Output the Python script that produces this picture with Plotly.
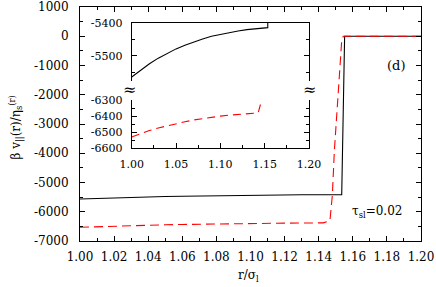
import plotly.graph_objects as go

# ---- data ----
r_black = [1.00, 1.01, 1.02, 1.03, 1.04, 1.05, 1.06, 1.07, 1.08, 1.09, 1.10,
           1.11, 1.12, 1.13, 1.14, 1.1535, 1.1552, 1.20]
v_black = [-5564, -5543, -5524, -5507, -5492, -5479, -5468, -5458, -5449, -5441,
           -5435, -5430, -5425, -5421, -5418, -5415, 0, 0]

r_red = [1.00, 1.01, 1.02, 1.03, 1.04, 1.05, 1.06, 1.07, 1.08, 1.09, 1.10,
         1.11, 1.12, 1.13, 1.1427, 1.1466, 1.148, 1.1492, 1.1513, 1.1528,
         1.1535, 1.1544, 1.20]
v_red = [-6530, -6509, -6490, -6474, -6460, -6447, -6435, -6424, -6415, -6407,
         -6400, -6394, -6389, -6385, -6380, -6300, -5440, -3900, -2180, -600,
         -150, 0, 0]

main_yticks = [1000, 0, -1000, -2000, -3000, -4000, -5000, -6000, -7000]
main_yticklabels = ["1000", "0", "-1000", "-2000", "-3000", "-4000", "-5000", "-6000", "-7000"]
inset_up_ticks = [-5400, -5500]
inset_up_labels = ["-5400", "-5500"]
inset_lo_ticks = [-6300, -6400, -6500, -6600]
inset_lo_labels = ["-6300", "-6400", "-6500", "-6600"]

FONT = "DejaVu Serif"
W, H = 436, 287
ML, MR, MT, MB = 80, 15, 7, 46

fig = go.Figure()
fig.add_trace(go.Scatter(x=r_black, y=v_black, mode="lines",
                         line=dict(color="black", width=1.1), xaxis="x", yaxis="y"))
fig.add_trace(go.Scatter(x=r_red, y=v_red, mode="lines",
                         line=dict(color="#ff0000", width=1.1, dash="9px,5px"),
                         xaxis="x", yaxis="y"))
# inset
fig.add_trace(go.Scatter(x=r_black, y=v_black, mode="lines",
                         line=dict(color="black", width=1.1), xaxis="x3", yaxis="y2"))
fig.add_trace(go.Scatter(x=r_red, y=v_red, mode="lines",
                         line=dict(color="#ff0000", width=1.1, dash="8px,5px"),
                         xaxis="x2", yaxis="y3"))

axis_common = dict(showline=True, linecolor="black", linewidth=1, showgrid=False,
                   zeroline=False, ticks="inside", tickcolor="black", automargin=False)

pw = W - ML - MR
ph = H - MT - MB
def px2x(p):
    return (p - ML) / pw
def py2y(p):
    return (H - MB - p) / ph

ix0, ix1 = px2x(131.7), px2x(309)

fig.update_layout(
    template="none",
    width=W, height=H,
    margin=dict(l=ML, r=MR, t=MT, b=MB, pad=0),
    paper_bgcolor="white", plot_bgcolor="white",
    showlegend=False,
    font=dict(family=FONT, size=12, color="black"),
    xaxis=dict(**axis_common, range=[1.0, 1.2], tick0=1.0, dtick=0.02, tickformat=".2f",
               ticklen=5, mirror="ticks", ticklabelstandoff=5,
               minor=dict(dtick=0.01, tick0=1.0, ticks="inside", ticklen=3, tickcolor="black"),
               tickfont=dict(family=FONT, size=12)),
    yaxis=dict(**axis_common, range=[-7000, 1000], tickmode="array", tickvals=main_yticks,
               ticktext=main_yticklabels, ticklen=5, mirror="ticks", ticklabelstandoff=8,
               minor=dict(tickmode="linear", dtick=500, tick0=0, ticks="inside", ticklen=3,
                          tickcolor="black"),
               tickfont=dict(family=FONT, size=12)),
    xaxis2=dict(**axis_common, domain=[ix0, ix1], anchor="y3", range=[1.0, 1.2],
                tick0=1.0, dtick=0.05, tickformat=".2f", ticklen=5, mirror=False,
                ticklabelstandoff=5,
                minor=dict(dtick=0.025, tick0=1.0, ticks="inside", ticklen=3, tickcolor="black"),
                tickfont=dict(family=FONT, size=11)),
    xaxis3=dict(showline=True, linecolor="black", linewidth=1, showgrid=False, zeroline=False,
                domain=[ix0, ix1], anchor="y2", side="top", range=[1.0, 1.2],
                ticks="", showticklabels=False, matches="x2"),
    yaxis2=dict(**axis_common, domain=[py2y(80.7), py2y(22.7)], anchor="x3",
                range=[-5575, -5400], tickmode="array", tickvals=inset_up_ticks,
                ticktext=inset_up_labels, ticklen=5, mirror="ticks", ticklabelstandoff=6,
                minor=dict(tickmode="linear", dtick=50, tick0=-5400, ticks="inside", ticklen=3,
                           tickcolor="black"),
                tickfont=dict(family=FONT, size=11)),
    yaxis3=dict(**axis_common, domain=[py2y(148.3), py2y(100)], anchor="x2",
                range=[-6600, -6300], tickmode="array", tickvals=inset_lo_ticks,
                ticktext=inset_lo_labels, ticklen=5, mirror="ticks", ticklabelstandoff=6,
                minor=dict(tickmode="linear", dtick=50, tick0=-6300, ticks="inside", ticklen=3,
                           tickcolor="black"),
                tickfont=dict(family=FONT, size=11)),
    annotations=[
        dict(text="β v<sub>||</sub>(r)/η<sub>s</sub><sup>(r)</sup>", textangle=-90,
             x=px2x(16.5), y=py2y(128), xref="paper", yref="paper", showarrow=False,
             font=dict(family=FONT, size=12), xanchor="center", yanchor="middle"),
        dict(text="r/σ<sub>l</sub>", x=px2x(248), y=py2y(276), xref="paper", yref="paper",
             showarrow=False, font=dict(family=FONT, size=12), xanchor="center", yanchor="middle"),
        dict(text="(d)", x=px2x(395.7), y=py2y(65.7), xref="paper", yref="paper",
             showarrow=False, font=dict(family=FONT, size=13), xanchor="center", yanchor="middle"),
        dict(text="τ<sub>sl</sub>=0.02", x=px2x(377), y=py2y(212), xref="paper", yref="paper",
             showarrow=False, font=dict(family=FONT, size=12), xanchor="center", yanchor="middle"),
        dict(text="≈", x=px2x(129), y=py2y(90), xref="paper", yref="paper",
             showarrow=False, font=dict(family=FONT, size=16), xanchor="center", yanchor="middle"),
        dict(text="≈", x=px2x(309), y=py2y(90), xref="paper", yref="paper",
             showarrow=False, font=dict(family=FONT, size=16), xanchor="center", yanchor="middle"),
    ],
)

fig.write_html("out.html", config={"displayModeBar": False},
               post_script="document.body.style.margin='0px';")
